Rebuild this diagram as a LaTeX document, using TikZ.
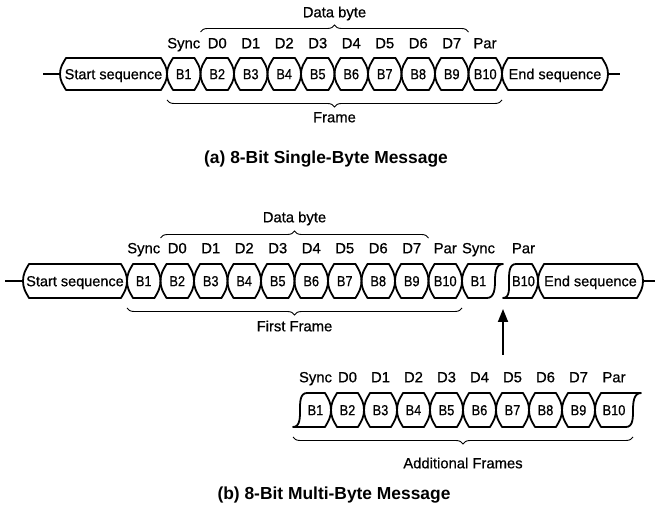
\documentclass[tikz,border=0pt]{standalone}
\usepackage{fontspec}
\setmainfont{Liberation Sans}
\newfontfamily\plotfont[FakeBold=0.6]{Liberation Sans}
\newfontfamily\cellfont[FakeStretch=0.88,FakeBold=0.6]{Liberation Sans}
\usetikzlibrary{decorations.pathreplacing,arrows.meta}
\tikzset{
  box/.style={line width=1.8pt, line join=round},
  wire/.style={line width=1.8pt},
  celltxt/.style={font=\plotfont\fontsize{14.5}{14.5}\selectfont, inner sep=0pt, text height=10.4pt, text depth=0pt},
  lbl/.style={font=\plotfont\fontsize{14.8}{14.8}\selectfont, inner sep=0pt, text height=10.6pt, text depth=0pt},
  captxt/.style={font=\bfseries\fontsize{17.4}{17.4}\selectfont, inner sep=0pt, text height=12.4pt, text depth=0pt},
  brc/.style={decorate, decoration={brace, amplitude=7pt}, line width=0.9pt},
  arr/.style={line width=1.8pt, -{Triangle[length=13pt,width=10pt]}},
}
% #1 left point x, #2 right point x, #3 centre y, #4 half height, #5 text, #6 name
\newcommand{\xcell}[6]{%
  \draw[box] (#1,#3) to[out=90,in=240] ({#1+6},{#3+#4}) -- ({#2-6},{#3+#4})
    to[out=-60,in=90] (#2,#3) to[out=-90,in=60] ({#2-6},{#3-#4})
    -- ({#1+6},{#3-#4}) to[out=120,in=-90] cycle;
  \node[celltxt] (#6) at ({(#1+#2)/2},#3) {#5};}
\begin{document}
\begin{tikzpicture}[x=1pt,y=1pt]
\fill[white] (0,0) rectangle (655,508);
\useasboundingbox (0,0) rectangle (655,508);

% ---------------- (a) ----------------
\coordinate (wa0) at (43,434); \coordinate (wa1) at (60,434);
\coordinate (wa2) at (608,434); \coordinate (wa3) at (620,434);
\draw[wire] (wa0) -- (wa1);
\draw[wire] (wa2) -- (wa3);
\xcell{60}{167}{434}{16}{Start sequence}{sa}
\foreach \i [count=\n from 1] in {0,...,9} {
  \xcell{167+33.5*\i}{200.5+33.5*\i}{434}{16}{\cellfont B\n}{a\n}
}
\xcell{502}{608}{434}{16}{End sequence}{ea}
\node[lbl] (las) at (183.75,465) {Sync};
\foreach \i in {0,...,7} { \node[lbl] (lad\i) at ({217.25+33.5*\i},465) {D\i}; }
\node[lbl] (lap) at (485,465) {Par};
\draw[brc] (200.5,476) -- (468.5,476);
\node[lbl] (dba) at (334.5,496) {Data byte};
\draw[brc] (502,408) -- (167,408);
\node[lbl] (fra) at (334.5,391) {Frame};
\node[captxt] (capa) at (326,351) {(a) 8-Bit Single-Byte Message};

% ---------------- (b) ----------------
\coordinate (wb0) at (5,227); \coordinate (wb1) at (23,227);
\coordinate (wb2) at (643,227); \coordinate (wb3) at (655,227);
\draw[wire] (wb0) -- (wb1);
\draw[wire] (wb2) -- (wb3);
\xcell{23}{127}{227}{17}{Start sequence}{sb}
\foreach \i [count=\n from 1] in {0,...,9} {
  \xcell{127+33.5*\i}{160.5+33.5*\i}{227}{17}{\cellfont B\n}{b\n}
}
% torn frame: B1 then B10
\draw[box] (462,227) to[out=90,in=240] (468,244) -- (503,244)
  to[out=180,in=90] (495,227) to[out=270,in=0] (487,210)
  -- (468,210) to[out=120,in=-90] cycle;
\node[celltxt] (bx1) at (478.5,227) {\cellfont B1};
\draw[box] (503,210) to[out=0,in=270] (509,227) to[out=90,in=180] (516,244)
  -- (532,244) to[out=-60,in=90] (538,227) to[out=-90,in=60] (532,210) -- cycle;
\node[celltxt] (bx10) at (523.5,227) {\cellfont B10};
\xcell{538}{643}{227}{17}{End sequence}{eb}
\node[lbl] (lbs) at (143.75,260) {Sync};
\foreach \i in {0,...,7} { \node[lbl] (lbd\i) at ({177.25+33.5*\i},260) {D\i}; }
\node[lbl] (lbp) at (445.25,260) {Par};
\node[lbl] (lbs2) at (478.5,260) {Sync};
\node[lbl] (lbp2) at (523.5,260) {Par};
\draw[brc] (160.5,270) -- (428.5,270);
\node[lbl] (dbb) at (294.5,291) {Data byte};
\draw[brc] (462,200) -- (127,200);
\node[lbl] (ffb) at (294.5,182) {First Frame};

% arrow
\coordinate (arrS) at (503,153); \coordinate (arrE) at (503,199);
\draw[arr] (arrS) -- (arrE);

% ---------------- additional frames ----------------
\draw[box] (293,81) to[out=0,in=270] (300,98) to[out=90,in=180] (307,115)
  -- (325,115) to[out=-60,in=90] (331,98) to[out=-90,in=60] (325,81) -- cycle;
\node[celltxt] (c1) at (315.5,98) {\cellfont B1};
\foreach \i [count=\n from 2] in {0,...,7} {
  \xcell{331+33*\i}{364+33*\i}{98}{17}{\cellfont B\n}{c\n}
}
\draw[box] (595,98) to[out=90,in=240] (601,115) -- (641,115)
  to[out=180,in=90] (633,98) to[out=270,in=0] (626,81)
  -- (601,81) to[out=120,in=-90] cycle;
\node[celltxt] (c10) at (614,98) {\cellfont B10};
\node[lbl] (lcs) at (315.5,131) {Sync};
\foreach \i in {0,...,7} { \node[lbl] (lcd\i) at ({347.5+33*\i},131) {D\i}; }
\node[lbl] (lcp) at (614,131) {Par};
\draw[brc] (633,71) -- (293,71);
\node[lbl] (afc) at (463,45) {Additional Frames};
\node[captxt] (capb) at (334,15) {(b) 8-Bit Multi-Byte Message};
\end{tikzpicture}
\end{document}
